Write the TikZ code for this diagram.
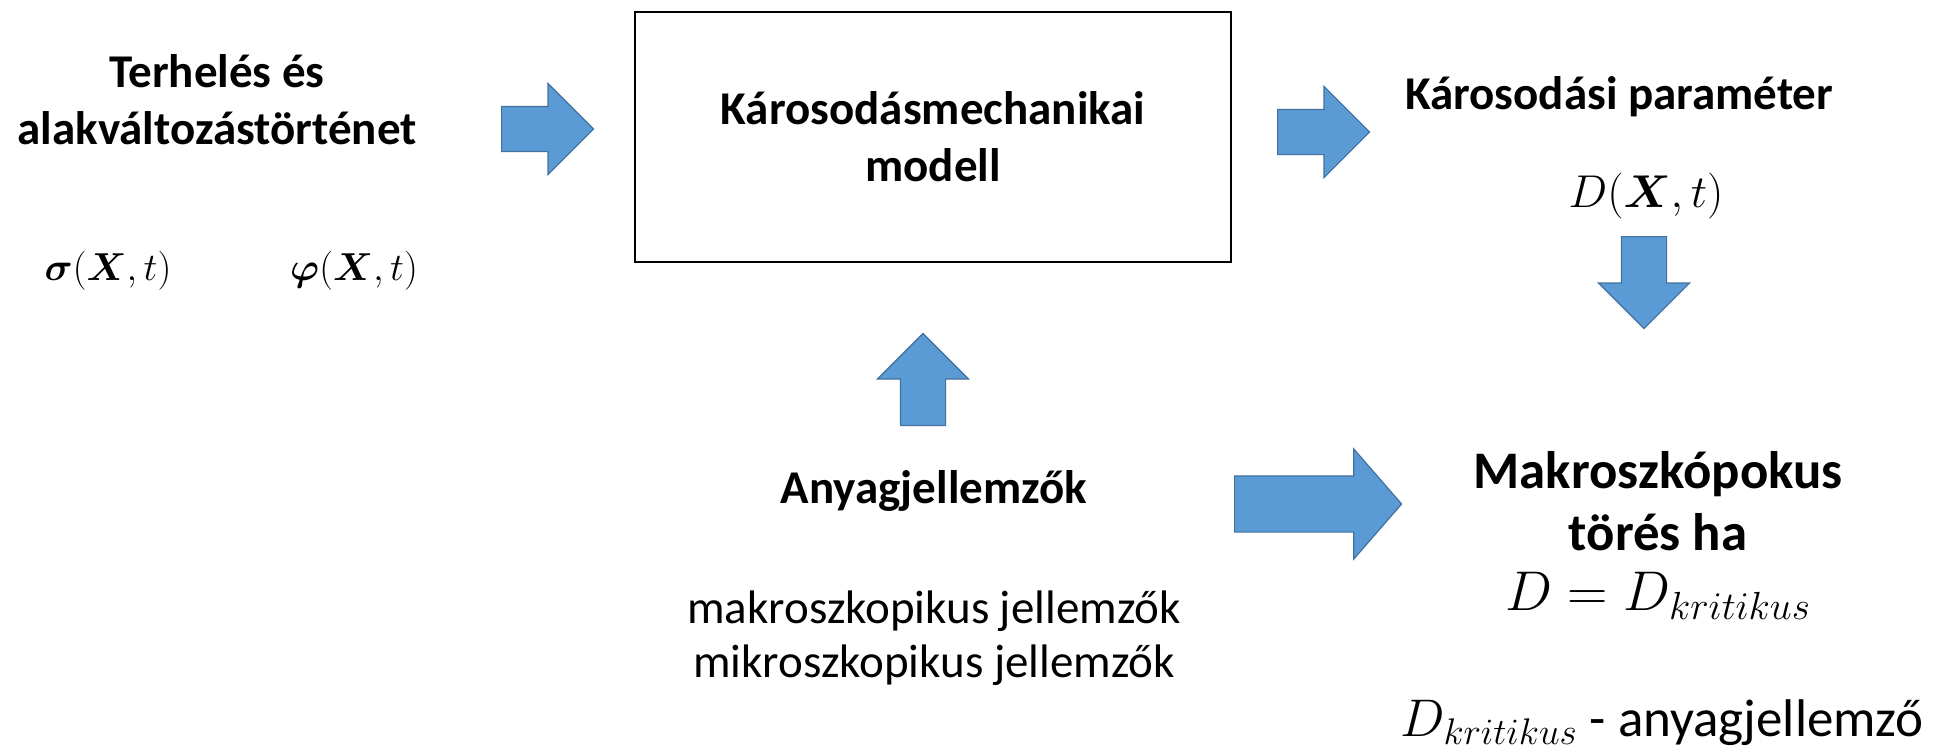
\RequirePackage{fix-cm}
\documentclass[tikz,border=0pt]{standalone}
\usepackage{amsmath,bm}
\usepackage{fontspec}
\setmainfont{Carlito}
\usetikzlibrary{shapes.arrows}
\definecolor{arrowfill}{HTML}{5B9BD5}
\definecolor{arrowedge}{HTML}{41719C}

\begin{document}
\begin{tikzpicture}
[x=0.5pt,y=-0.5pt,
  arrowdecorate/.style={single arrow,draw=arrowedge,fill=arrowfill,line width=0.6pt,
    inner xsep=0pt,inner ysep=11pt,single arrow head extend=11.5pt,
    minimum height=46pt,minimum width=45pt,anchor=tail},
  bigarrow/.style={arrowdecorate,inner ysep=13.75pt,single arrow head extend=13.5pt,
    minimum height=83.5pt,minimum width=54.5pt,single arrow tip angle=98},
  titledecorate/.style={align=center,inner sep=0pt,
    font=\fontsize{23.5}{28.5}\selectfont\bfseries},
  textdecorate/.style={align=center,inner sep=0pt,
    font=\fontsize{23.5}{27}\selectfont},
  mathdecorate/.style={inner sep=0pt,font=\fontsize{23}{27}\selectfont}]
\useasboundingbox (0,0) rectangle (1948,752);
%% model block
\node (model) at (933,137) [draw,line width=1pt,minimum width=298pt,
  minimum height=125pt,titledecorate] {Károsodásmechanikai\\modell};
%% texts
\node (load) at (217,99.5) [titledecorate] {Terhelés és\\alakváltozástörténet};
\node (stress) at (108,271) [mathdecorate,font=\fontsize{19.5}{27}\selectfont]
  {$\bm{\sigma}(\bm{X},t)$};
\node (strain) at (354,271) [mathdecorate,font=\fontsize{19.5}{27}\selectfont]
  {$\bm{\varphi}(\bm{X},t)$};
\node (param) at (1619,97) [titledecorate] {Károsodási paraméter};
\node (damage) at (1646,196) [mathdecorate] {$D(\bm{X},t)$};
\node (material) at (934,491) [titledecorate] {Anyagjellemzők};
\node (matlist) at (934,638) [textdecorate]
  {makroszkopikus jellemzők\\mikroszkopikus jellemzők};
\node (fracture) at (1658,501) [titledecorate,
  font=\fontsize{26.4}{31}\selectfont\bfseries] {Makroszkópokus\\törés ha};
\node (criterion) at (1658,596) [mathdecorate,
  font=\fontsize{28}{31}\selectfont] {$D=D_{kritikus}$};
\node (critical) at (1662,723) [textdecorate,
  font=\fontsize{26.5}{31}\selectfont] {$D_{kritikus}$ - anyagjellemző};
%% block arrows (placed by their tails)
\foreach \arrowname/\x/\y/\turn in {arrin/501/129/0, arrout/1277/132/0,
  arrdown/1644/236/-90, arrup/923/426/90} {
  \node (\arrowname) at (\x,\y) [arrowdecorate,rotate=\turn] {};
}
\node (arrfail) at (1234,504) [bigarrow] {};
\end{tikzpicture}
\end{document}
